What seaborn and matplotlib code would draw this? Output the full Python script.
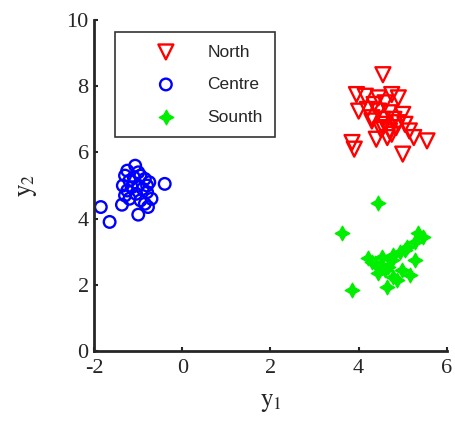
import numpy as np
import pandas as pd
import matplotlib
matplotlib.use("Agg")
import matplotlib.pyplot as plt
import seaborn as sns

# cluster data
north_y1 = [4.55, 3.95, 4.15, 4.45, 4.75, 4.90, 4.35, 4.60, 4.20, 4.00, 4.45, 4.70, 5.00,
            4.30, 4.55, 4.80, 4.60, 4.90, 5.05, 4.50, 4.70, 4.85, 5.15, 4.65, 4.40, 5.25,
            5.55, 3.85, 3.90, 5.00, 4.55, 4.75, 4.30]
north_y2 = [8.35, 7.75, 7.70, 7.65, 7.75, 7.65, 7.45, 7.50, 7.30, 7.25, 7.25, 7.20, 7.15,
            7.05, 7.00, 7.00, 6.85, 6.90, 6.85, 6.70, 6.65, 6.75, 6.65, 6.45, 6.40, 6.45,
            6.35, 6.30, 6.10, 5.95, 6.75, 6.55, 6.95]

centre_y1 = [-1.07, -0.40, -1.85, -1.65, -1.37, -1.00, -0.78, -1.30, -1.20, -1.35, -1.25,
             -1.10, -0.95, -0.85, -0.75, -1.00, -0.90, -1.15, -1.30, -1.05, -0.80, -0.70,
             -0.95, -1.20, -0.85, -1.00, -1.25, -0.80]
centre_y2 = [5.60, 5.05, 4.35, 3.90, 4.42, 4.12, 4.35, 5.30, 5.15, 5.00, 4.85,
             5.25, 5.30, 5.20, 5.10, 5.00, 4.90, 4.95, 4.70, 4.75, 4.80, 4.60,
             4.55, 4.60, 4.45, 5.40, 5.45, 5.00]

south_y1 = [4.44, 3.62, 3.85, 5.46, 5.28, 5.10, 4.94, 4.21, 4.37, 4.60, 4.78, 4.64, 5.28,
            5.17, 4.76, 4.53, 5.35, 4.78, 4.67, 4.44, 4.98, 4.87, 5.05, 4.30, 4.50]
south_y2 = [4.47, 3.56, 1.84, 3.44, 3.29, 3.14, 2.99, 2.81, 2.66, 2.45, 2.24, 1.93, 2.75,
            2.30, 2.75, 2.84, 3.56, 2.90, 2.54, 2.36, 2.45, 2.15, 3.05, 2.70, 2.60]

sns.set_style("ticks")
plt.rcParams["font.family"] = ["Liberation Serif", "DejaVu Serif"]
plt.rcParams["mathtext.fontset"] = "stix"
plt.rcParams["axes.unicode_minus"] = False

fig = plt.figure(figsize=(4.55, 4.28), dpi=100)
ax = fig.add_axes([0.207, 0.18, 0.775, 0.773])

sns.scatterplot(x=north_y1, y=north_y2, marker="v", s=115, facecolor="none",
                edgecolor="red", linewidth=1.7, label="North", ax=ax)
sns.scatterplot(x=centre_y1, y=centre_y2, marker="o", s=70, facecolor="none",
                edgecolor="blue", linewidth=1.7, label="Centre", ax=ax)
sns.scatterplot(x=south_y1, y=south_y2, marker=(4, 1, 0), s=110, color="#00ee00",
                edgecolor="#00ee00", linewidth=1.0, label="Sounth", ax=ax)

ax.set_xlim(-2, 6)
ax.set_ylim(0, 10)
ax.set_xticks([-2, 0, 2, 4, 6])
ax.set_yticks([0, 2, 4, 6, 8, 10])
ax.tick_params(direction="in", length=3, width=1.5, labelsize=16)
ax.tick_params(axis="x", pad=6)
ax.tick_params(axis="y", pad=4)
for s in ["left", "bottom"]:
    ax.spines[s].set_linewidth(2)
sns.despine(ax=ax)

ax.set_xlabel(r"$\mathrm{y}_1$", fontsize=18, labelpad=10)
ax.set_ylabel(r"$\mathrm{y}_2$", fontsize=18, labelpad=20)

leg = ax.legend(loc="upper left", bbox_to_anchor=(0.06, 0.964), frameon=True, fancybox=False,
                edgecolor="black", prop={"family": "Liberation Sans", "size": 12.5},
                labelspacing=1.0, borderpad=0.71, handletextpad=0.2, borderaxespad=0,
                handlelength=4.4)
leg.get_frame().set_linewidth(1.2)

fig.savefig("out.png", dpi=100)
